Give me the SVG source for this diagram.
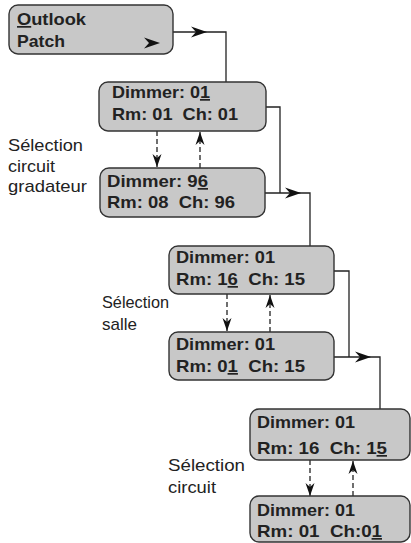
<svg xmlns="http://www.w3.org/2000/svg" xmlns:xlink="http://www.w3.org/1999/xlink" width="411" height="543" viewBox="0 0 411 543">
<style>
.box{fill:#c8c8c8;stroke:#333;stroke-width:1.4}
.t{font-family:"Liberation Sans",Arial,sans-serif;font-size:17px;font-weight:700;fill:#222}
.l{font-family:"Liberation Sans",Arial,sans-serif;font-size:17px;fill:#222}
.u{text-decoration:underline}
.c{fill:none;stroke:#222;stroke-width:1.3}
.d{fill:none;stroke:#222;stroke-width:1.3;stroke-dasharray:5 3;marker-end:url(#dh)}
.h{fill:#111}
</style>
<defs>
<path id="ah" d="M0,0 L-16,-5.5 L-11,0 L-16,5.5 Z"/>
<marker id="dh" viewBox="-14 -5 15 10" refX="0" refY="0" markerWidth="15" markerHeight="10" markerUnits="userSpaceOnUse" orient="auto">
<path d="M0,0 L-13,-4.5 L-9,0 L-13,4.5 Z" fill="#111"/>
</marker>
</defs>
<rect width="411" height="543" fill="#fff"/>
<g id="connectors">
<path class="c" d="M173,32 H226 V82"/>
<use xlink:href="#ah" class="h" transform="translate(207,32)"/>
<path class="c" d="M266,107 H280 V193"/>
<path class="c" d="M265,193 H310 V246"/>
<use xlink:href="#ah" class="h" transform="translate(301,193)"/>
<path class="c" d="M334,271 H349 V357"/>
<path class="c" d="M334,357 H380 V409"/>
<use xlink:href="#ah" class="h" transform="translate(371,357)"/>
<path class="d" d="M157,131 V167"/>
<path class="d" d="M200,168 V132"/>
<path class="d" d="M227,294 V331"/>
<path class="d" d="M270,332 V295"/>
<path class="d" d="M310,460 V496"/>
<path class="d" d="M353,496 V461"/>
</g>
<g id="n1">
<rect class="box" x="9" y="5" width="164" height="49" rx="9"/>
<text class="t" x="17" y="25" textLength="69" lengthAdjust="spacingAndGlyphs"><tspan class="u">O</tspan>utlook</text>
<text class="t" x="17" y="47" textLength="48" lengthAdjust="spacingAndGlyphs">Patch</text>
<use xlink:href="#ah" class="h" transform="translate(160,43)"/>
</g>
<g id="n2">
<rect class="box" x="99" y="82" width="167" height="49" rx="9"/>
<text class="t" x="112" y="98" textLength="98" lengthAdjust="spacingAndGlyphs">Dimmer: 0<tspan class="u">1</tspan></text>
<text class="t" x="112" y="120" textLength="126" lengthAdjust="spacingAndGlyphs" xml:space="preserve">Rm: 01  Ch: 01</text>
</g>
<g id="n3">
<rect class="box" x="100" y="168" width="165" height="49" rx="9"/>
<text class="t" x="107" y="187" textLength="101" lengthAdjust="spacingAndGlyphs">Dimmer: 9<tspan class="u">6</tspan></text>
<text class="t" x="107" y="208" textLength="128" lengthAdjust="spacingAndGlyphs" xml:space="preserve">Rm: 08  Ch: 96</text>
</g>
<g id="n4">
<rect class="box" x="169" y="246" width="165" height="48" rx="9"/>
<text class="t" x="176" y="263" textLength="99" lengthAdjust="spacingAndGlyphs">Dimmer: 01</text>
<text class="t" x="176" y="285" textLength="129" lengthAdjust="spacingAndGlyphs" xml:space="preserve">Rm: 1<tspan class="u">6</tspan>  Ch: 15</text>
</g>
<g id="n5">
<rect class="box" x="169" y="332" width="165" height="48" rx="9"/>
<text class="t" x="176" y="350" textLength="99" lengthAdjust="spacingAndGlyphs">Dimmer: 01</text>
<text class="t" x="176" y="372" textLength="129" lengthAdjust="spacingAndGlyphs" xml:space="preserve">Rm: 0<tspan class="u">1</tspan>  Ch: 15</text>
</g>
<g id="n6">
<rect class="box" x="250" y="409" width="160" height="51" rx="9"/>
<text class="t" x="257" y="428" textLength="98" lengthAdjust="spacingAndGlyphs">Dimmer: 01</text>
<text class="t" x="257" y="454" textLength="130" lengthAdjust="spacingAndGlyphs" xml:space="preserve">Rm: 16  Ch: 1<tspan class="u">5</tspan></text>
</g>
<g id="n7">
<rect class="box" x="250" y="496" width="160" height="46" rx="9"/>
<text class="t" x="257" y="516" textLength="98" lengthAdjust="spacingAndGlyphs">Dimmer: 01</text>
<text class="t" x="257" y="537" textLength="125" lengthAdjust="spacingAndGlyphs" xml:space="preserve">Rm: 01  Ch:0<tspan class="u">1</tspan></text>
</g>
<g id="labels">
<text class="l" x="8" y="151" textLength="75" lengthAdjust="spacingAndGlyphs">Sélection</text>
<text class="l" x="8" y="172" textLength="47" lengthAdjust="spacingAndGlyphs">circuit</text>
<text class="l" x="8" y="192" textLength="79" lengthAdjust="spacingAndGlyphs">gradateur</text>
<text class="l" x="102" y="308" textLength="67" lengthAdjust="spacingAndGlyphs">Sélection</text>
<text class="l" x="102" y="330" textLength="35" lengthAdjust="spacingAndGlyphs">salle</text>
<text class="l" x="168" y="471" textLength="77" lengthAdjust="spacingAndGlyphs">Sélection</text>
<text class="l" x="168" y="493" textLength="48" lengthAdjust="spacingAndGlyphs">circuit</text>
</g>
</svg>
